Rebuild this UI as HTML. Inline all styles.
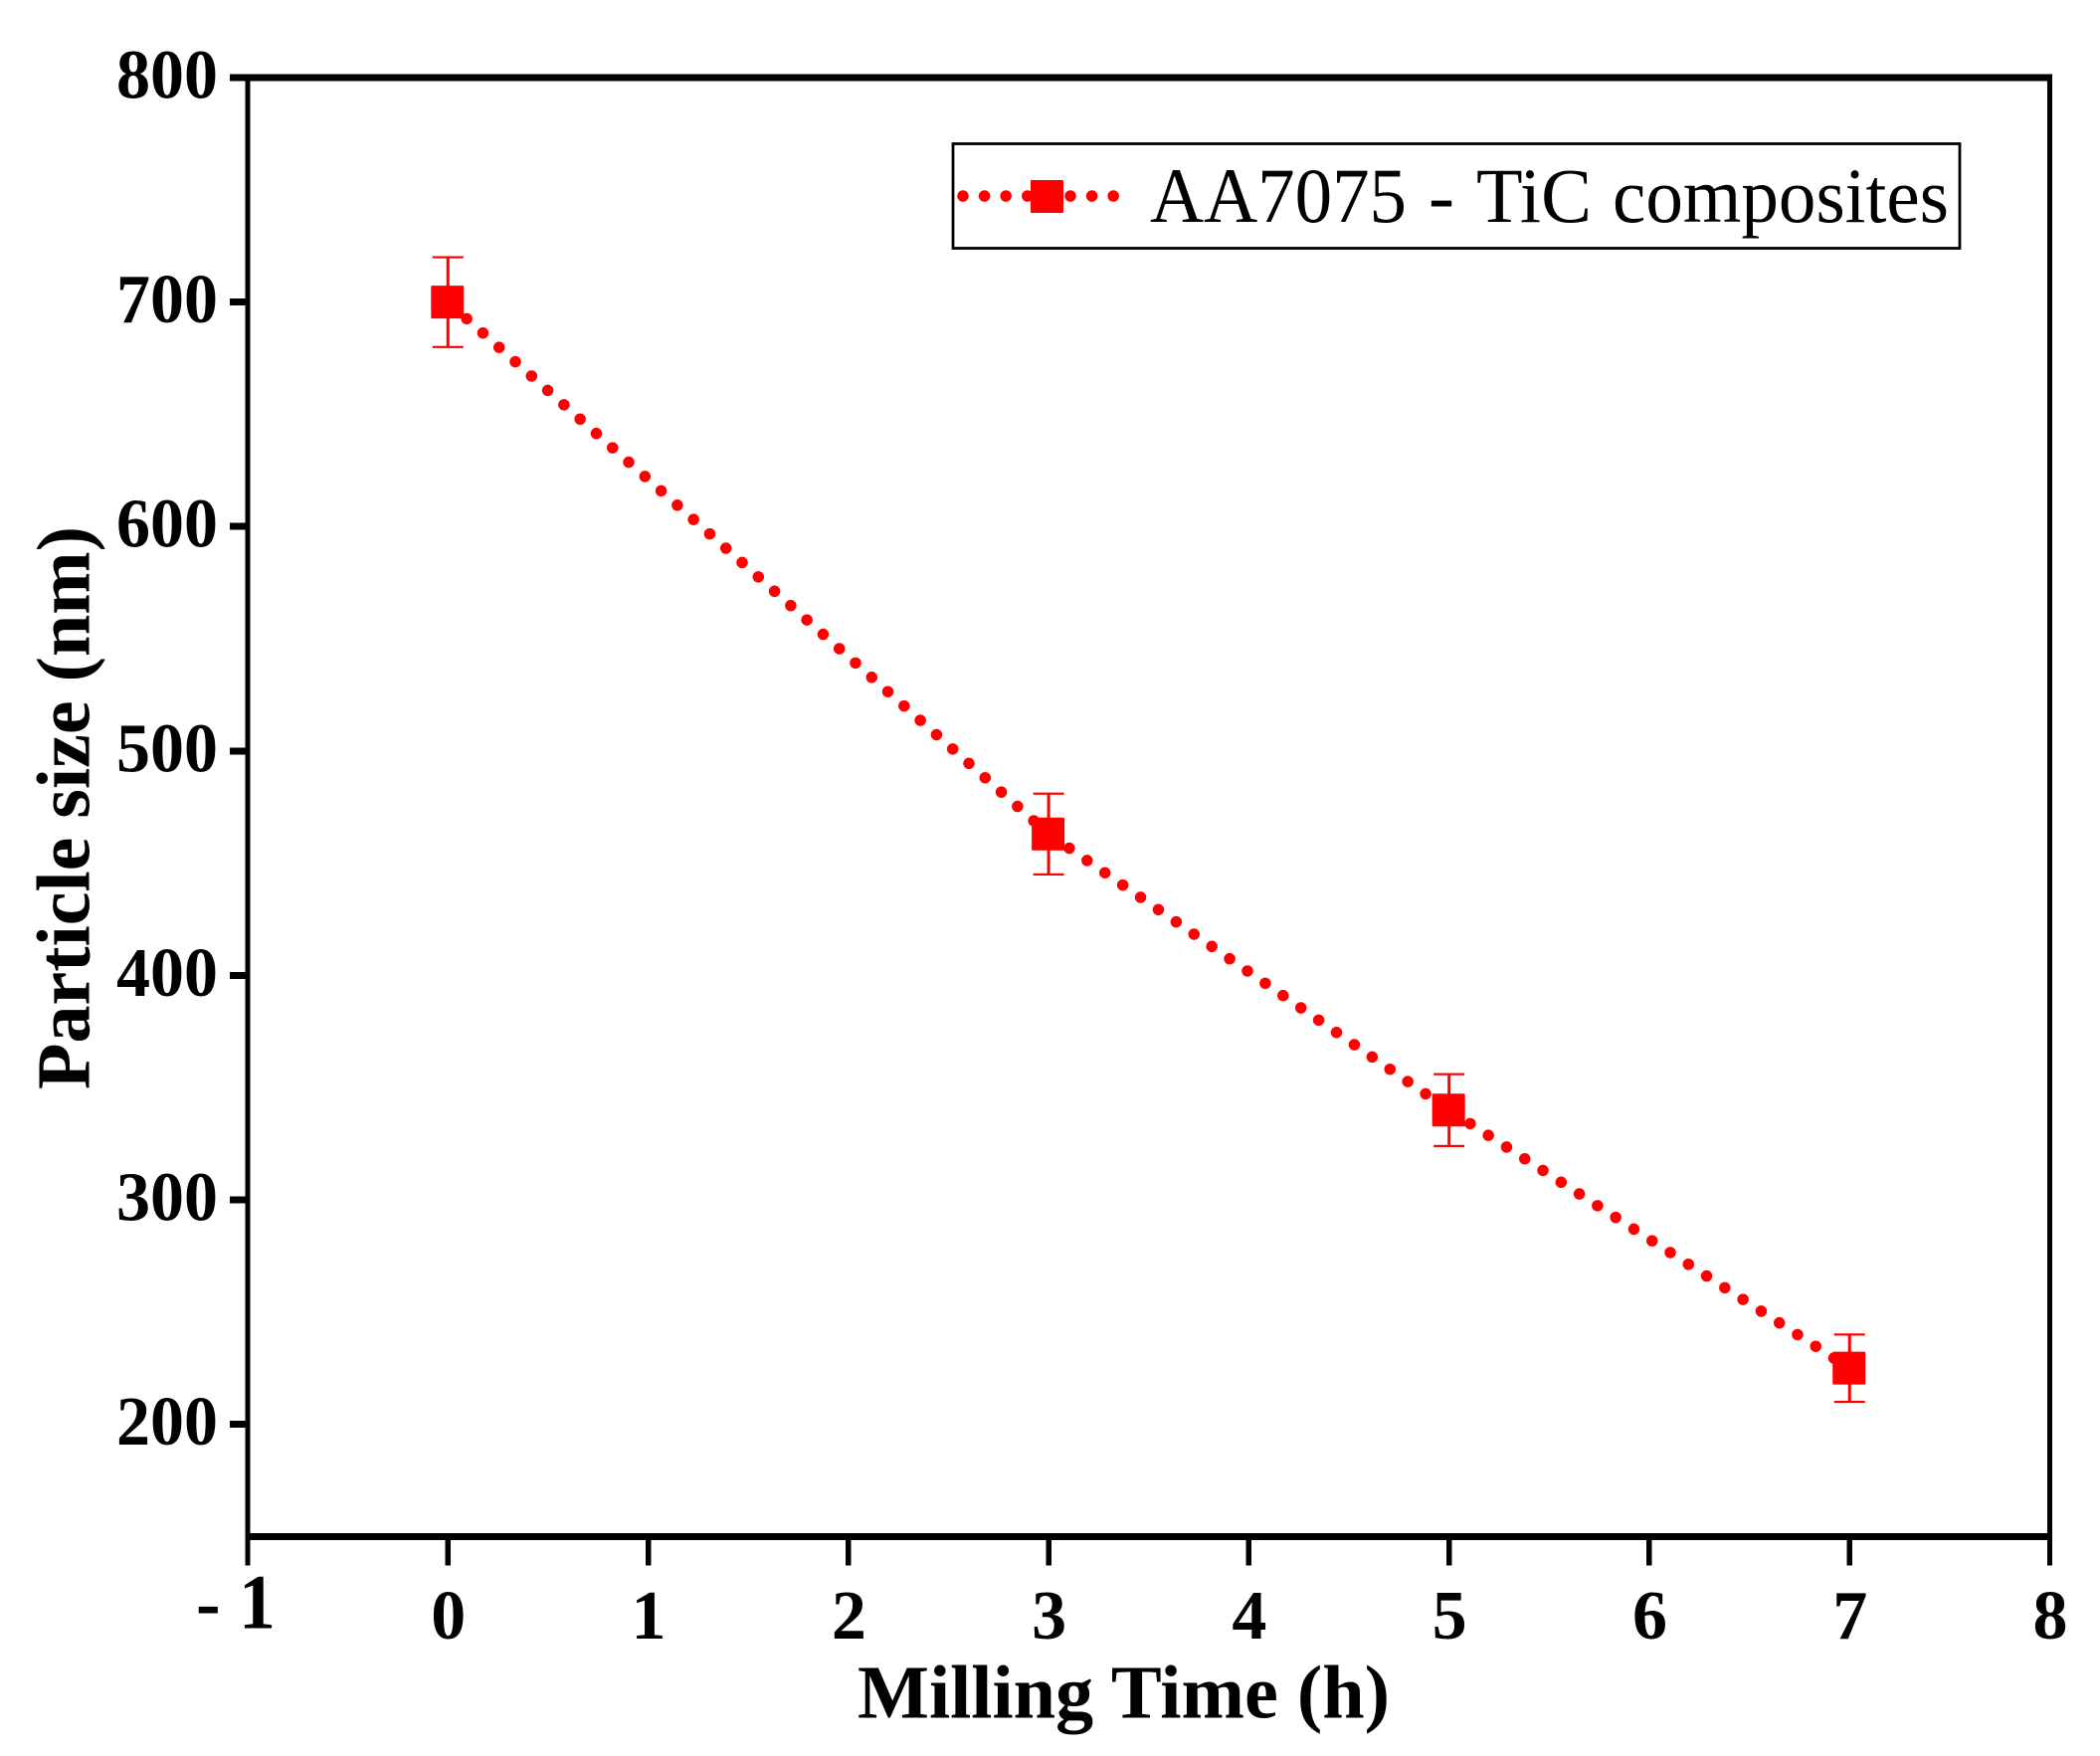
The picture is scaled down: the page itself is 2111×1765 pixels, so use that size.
<!DOCTYPE html>
<html lang="en">
<head>
<meta charset="utf-8">
<title>Particle size vs milling time</title>
<style>
html,body{margin:0;padding:0;background:#fff;}
svg{display:block;}
text{font-family:"Liberation Serif","Times New Roman",serif;fill:#000;}
.b{font-weight:bold;}
#axes rect{shape-rendering:crispEdges;}
</style>
</head>
<body>
<svg id="chart" xmlns="http://www.w3.org/2000/svg" width="2111" height="1765" viewBox="0 0 2111 1765">
  <rect x="0" y="0" width="2111" height="1765" fill="#fff"/>
  <g id="axes"></g>
  <g id="series"></g>
  <text class="b" x="862" y="1726.5" font-size="76" textLength="535" lengthAdjust="spacingAndGlyphs">Milling Time (h)</text>
  <text class="b" transform="translate(89.5 1095) rotate(-90)" x="0" y="0" font-size="76" textLength="566" lengthAdjust="spacingAndGlyphs">Particle size (nm)</text>
  <g>
    <rect x="958" y="144.5" width="1012" height="105" fill="#fff" stroke="#000" stroke-width="2.8"/>
    <path d="M968 197H1120" fill="none" stroke="#f00" stroke-width="11.5" stroke-linecap="round" stroke-dasharray="0 21.6"/>
    <rect x="1036" y="181" width="33" height="33" rx="1" fill="#f00"/>
    <text y="223" font-size="78"><tspan x="1156" textLength="258" lengthAdjust="spacingAndGlyphs">AA7075</tspan> <tspan x="1436">-</tspan> <tspan x="1484" textLength="116" lengthAdjust="spacingAndGlyphs">TiC</tspan> <tspan x="1621" textLength="338" lengthAdjust="spacingAndGlyphs">composites</tspan></text>
  </g>
</svg>
<script>
const xCategories = [0, 3, 5, 7];
const particleSize = [700, 463, 340, 225];
const errorValues = [20, 18, 16, 15];
const xTickValues = [-1, 0, 1, 2, 3, 4, 5, 6, 7, 8];
const yTickValues = [200, 300, 400, 500, 600, 700, 800];

const NS = 'http://www.w3.org/2000/svg';
const plotLeft = 249, plotRight = 2060.5, plotTop = 78, plotBottom = 1544.3;
function xScale(v) { return plotLeft + (v + 1) * (plotRight - plotLeft) / 9; }
function yScale(v) { return plotTop + (800 - v) * (plotBottom - plotTop) / 650; }
function make(tag, attrs, parent) {
  const el = document.createElementNS(NS, tag);
  for (const k in attrs) el.setAttribute(k, attrs[k]);
  parent.appendChild(el);
  return el;
}

const axes = document.getElementById('axes');
const series = document.getElementById('series');

const leftSpine = make('rect', {x: plotLeft - 2.7, y: plotTop, width: 5.4, height: 1573.5 - plotTop, fill: '#000'}, axes);


const rightSpine = make('rect', {x: plotRight - 2.7, y: plotTop, width: 5.4, height: 1573.5 - plotTop, fill: '#000'}, axes);


const topSpine = make('rect', {x: 231, y: plotTop - 3.5, width: plotRight + 2.7 - 231, height: 7, fill: '#000'}, axes);


const bottomSpine = make('rect', {x: plotLeft - 2.7, y: plotBottom - 3.5, width: plotRight - plotLeft + 5.4, height: 7, fill: '#000'}, axes);



yTickValues.forEach(function (v) {
  const y = yScale(v);
  const tick = make('rect', {x: 231, y: y - 3.5, width: 18, height: 7, fill: '#000'}, axes);
  
  
  const label = make('text', {x: 117, y: y + 20.5, 'font-size': 70, 'class': 'b', textLength: 102, lengthAdjust: 'spacingAndGlyphs'}, axes);
  
  
  label.textContent = String(v);
});

xTickValues.forEach(function (v) {
  const x = xScale(v);
  const tick = make('rect', {x: x - 2.7, y: plotBottom, width: 5.4, height: 1573.5 - plotBottom, fill: '#000'}, axes);
  
  
  let label;
  if (v < 0) {
    label = make('text', {x: 197, y: 1636.5, 'font-size': 78, 'class': 'b', textLength: 80, lengthAdjust: 'spacingAndGlyphs'}, axes);
    label.textContent = '- ' + Math.abs(v);
  } else {
    label = make('text', {x: x + 0.5, y: 1647, 'font-size': 70, 'class': 'b', 'text-anchor': 'middle'}, axes);
    label.textContent = String(v);
  }
  
  
});

for (let i = 0; i < xCategories.length - 1; i++) {
  const seg = make('path', {
    d: 'M' + xScale(xCategories[i]) + ' ' + yScale(particleSize[i]) + 'L' + xScale(xCategories[i + 1]) + ' ' + yScale(particleSize[i + 1]),
    fill: 'none', stroke: '#f00', 'stroke-width': 11.5, 'stroke-linecap': 'round',
    'stroke-dasharray': '0 21.75', 'stroke-dashoffset': -3.5
  }, series);
  
  
}

xCategories.forEach(function (c, i) {
  const x = xScale(c);
  const y = yScale(particleSize[i]);
  const hi = yScale(particleSize[i] + errorValues[i]);
  const lo = yScale(particleSize[i] - errorValues[i]);
  const stem = make('rect', {x: x - 1.5, y: hi, width: 3, height: lo - hi, fill: '#f00'}, series);
  
  
  const capTop = make('rect', {x: x - 15.5, y: hi - 1, width: 31, height: 2.2, fill: '#f00'}, series);
  
  
  const capBottom = make('rect', {x: x - 15.5, y: lo - 1, width: 31, height: 2.2, fill: '#f00'}, series);
  
  
  const marker = make('rect', {x: x - 17, y: y - 16.5, width: 33, height: 33, rx: 1, fill: '#f00'}, series);
  
  
});
</script>
</body>
</html>
